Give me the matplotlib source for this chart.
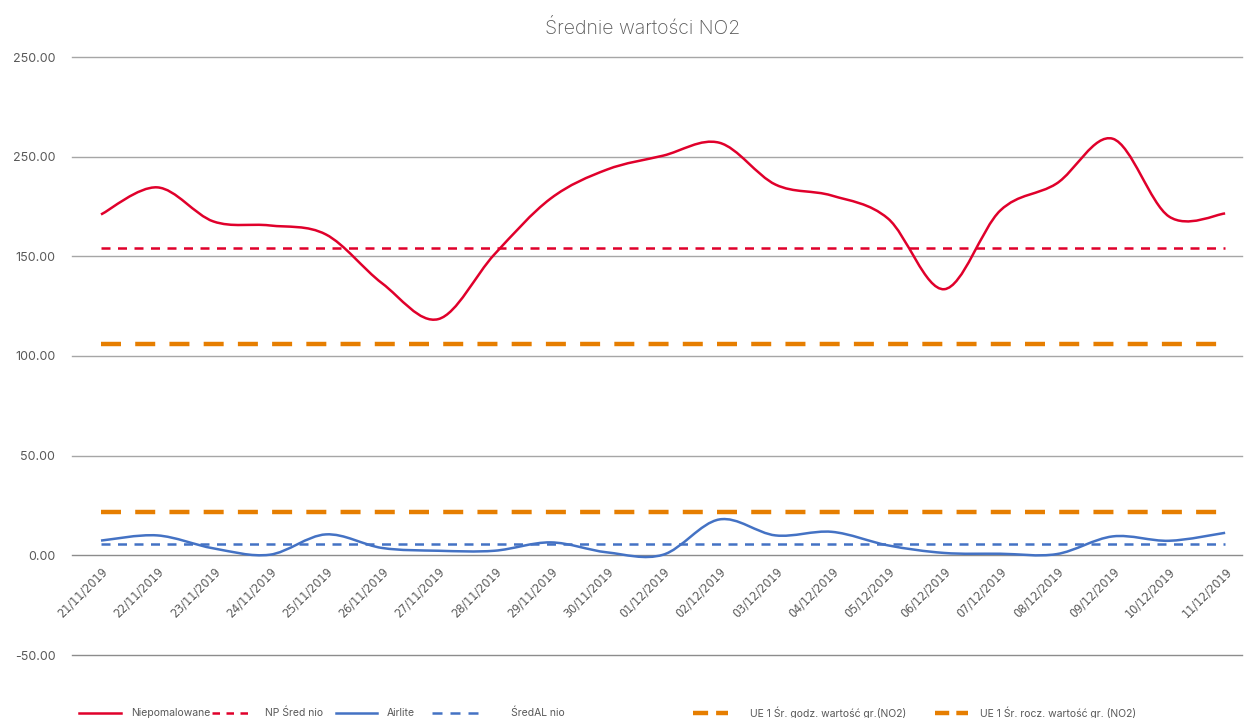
import numpy as np
import matplotlib
matplotlib.use("Agg")
import matplotlib.pyplot as plt
from matplotlib.path import Path
from matplotlib.patches import PathPatch
from matplotlib.lines import Line2D

dates = ['21/11/2019', '22/11/2019', '23/11/2019', '24/11/2019', '25/11/2019',
         '26/11/2019', '27/11/2019', '28/11/2019', '29/11/2019', '30/11/2019',
         '01/12/2019', '02/12/2019', '03/12/2019', '04/12/2019', '05/12/2019',
         '06/12/2019', '07/12/2019', '08/12/2019', '09/12/2019', '10/12/2019',
         '11/12/2019']
niepomalowane = [171, 184.6, 167.5, 165.5, 161, 136.5, 118.5, 151, 179, 193.5,
                 200.5, 207, 186, 180.5, 169, 133.5, 173, 186.5, 209, 170, 171.5]
airlite = [7.4, 10, 3.5, 0.3, 10.5, 3.7, 2.3, 2.3, 6.5, 1.5, 0.3, 18, 10,
           11.8, 5, 1.2, 0.8, 0.6, 9.5, 7.3, 11.3]
np_sred = 154.4
al_sred = 5.8
ue_godz = 106.2
ue_rocz = 21.6

ytick_vals = [-50, 0, 50, 100, 150, 200, 250]
ytick_labels = ['-50.00', '0.00', '50.00', '100.00', '150.00', '250.00', '250.00']

title = 'Średnie wartości NO2'
legend_labels = ['Niepomalowane', 'NP Śred nio', 'Airlite', 'ŚredAL nio',
                 'UE 1 Śr. godz. wartość gr.(NO2)', 'UE 1 Śr. rocz. wartość gr. (NO2)']

RED = '#E0002B'
BLUE = '#4472C4'
ORANGE = '#E67E00'
TXT = '#595959'
GRID = '#A6A6A6'

W, H = 1245, 718
fig = plt.figure(figsize=(W / 100, H / 100), dpi=100)
ax = fig.add_axes([72 / W, 1 - 655 / H, (1242 - 72) / W, (655 - 57) / H])

n = len(dates)
x = np.arange(n)
ax.set_xlim(-0.516, 20.3)
ax.set_ylim(-50, 250)


def smooth_patch(xs, ys, color, lw):
    pts = np.column_stack([xs, ys]).astype(float)
    verts = [tuple(pts[0])]
    codes = [Path.MOVETO]
    m = len(pts)
    for i in range(m - 1):
        p0 = pts[max(i - 1, 0)]
        p1 = pts[i]
        p2 = pts[i + 1]
        p3 = pts[min(i + 2, m - 1)]
        c1 = p1 + (p2 - p0) / 6.0
        c2 = p2 - (p3 - p1) / 6.0
        verts += [tuple(c1), tuple(c2), tuple(p2)]
        codes += [Path.CURVE4] * 3
    patch = PathPatch(Path(verts, codes), fill=False, edgecolor=color,
                      linewidth=lw, capstyle='butt', joinstyle='round', zorder=4)
    ax.add_patch(patch)


for v in ytick_vals:
    ax.axhline(v, color=('#8C8C8C' if v in (0, -50) else GRID), lw=1.0,
               zorder=1, clip_on=False)

ax.plot(x, [ue_godz] * n, color=ORANGE, lw=3.2, dashes=(4.5, 3.2), zorder=3)
ax.plot(x, [ue_rocz] * n, color=ORANGE, lw=3.2, dashes=(4.5, 3.2), zorder=3)
ax.plot(x, [np_sred] * n, color=RED, lw=1.8, dashes=(3.6, 3.0), zorder=3)
ax.plot(x, [al_sred] * n, color=BLUE, lw=1.8, dashes=(3.6, 3.0), zorder=3)
smooth_patch(x, niepomalowane, RED, 1.8)
smooth_patch(x, airlite, BLUE, 1.8)

for s in ax.spines.values():
    s.set_visible(False)
ax.spines['bottom'].set_position(('data', 0))
ax.set_yticks(ytick_vals)
ax.set_yticklabels(ytick_labels)
ax.tick_params(axis='y', length=0, pad=12, labelsize=9, labelcolor=TXT)
for t in ax.get_yticklabels():
    t.set_family('Inter')
ax.set_xticks(x)
ax.set_xticklabels(dates, rotation=45, ha='right', va='top',
                   rotation_mode='anchor', fontsize=9, color=TXT,
                   fontstretch='condensed', family='DejaVu Sans')
ax.tick_params(axis='x', length=0, pad=7)

fig.text(643 / W, 1 - 28 / H, title, ha='center', va='center',
         fontsize=14, color=TXT, family='Inter', fontweight='light')

# legend
ly = 1 - 713 / H
items = [
    (79, 121, RED, 1.8, None, 131),
    (212, 248, RED, 1.8, (3.0, 2.6), 265),
    (336, 377, BLUE, 1.8, None, 387),
    (432, 478, BLUE, 1.8, (4.0, 3.2), 511),
    (693, 728, ORANGE, 3.2, (3.4, 1.8), 750),
    (935, 968, ORANGE, 3.2, (3.2, 1.6), 980),
]
for (x0, x1, c, lw, d, tx), lab in zip(items, legend_labels):
    ln = Line2D([x0 / W, x1 / W], [ly, ly], color=c, lw=lw, transform=fig.transFigure)
    if d is not None:
        ln.set_dashes(d)
    fig.add_artist(ln)
    fig.text(tx / W, ly, lab, ha='left', va='center', fontsize=7.5, color=TXT,
             family='Inter')

fig.savefig('out.png', dpi=100)
